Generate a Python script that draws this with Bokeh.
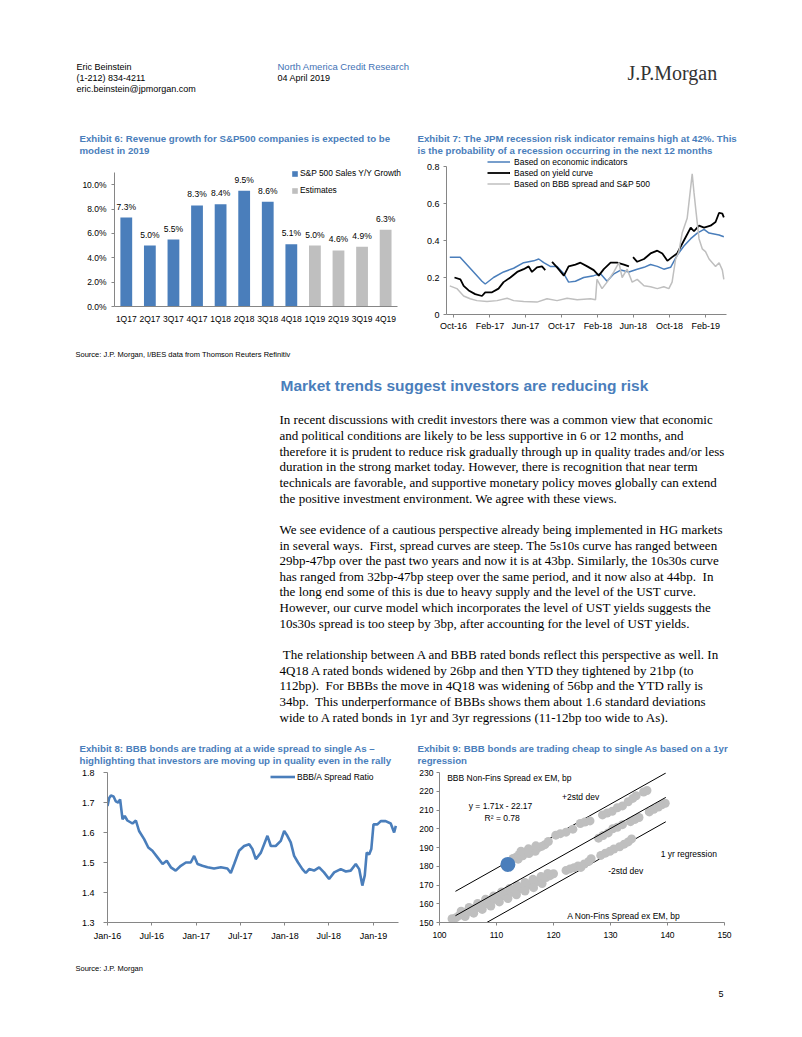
import numpy as np
import pandas as pd
from bokeh.plotting import figure
from bokeh.models import (Range1d, Legend, LegendItem, FixedTicker, Spacer,
                          DatetimeTickFormatter, NumeralTickFormatter, PrintfTickFormatter)
from bokeh.layouts import column, row
from bokeh.core.properties import value
from bokeh.embed import file_html
from bokeh.resources import INLINE

SANS = "Liberation Sans"
SERIF = "Liberation Serif"
BLUE = "#4A7EBB"
TBLUE = "#4A7EBB"
GREY = "#BFBFBF"
AXIS = "#868686"

# ---------------- Exhibit 6 data ----------------
quarters = ["1Q17", "2Q17", "3Q17", "4Q17", "1Q18", "2Q18", "3Q18", "4Q18",
            "1Q19", "2Q19", "3Q19", "4Q19"]
sales_growth = [7.3, 5.0, 5.5, 8.3, 8.4, 9.5, 8.6, 5.1, 5.0, 4.6, 4.9, 6.3]
is_estimate = [False] * 8 + [True] * 4

# ---------------- Exhibit 7 data ----------------
econ_dates = ["2016-09-18", "2016-10-23", "2016-11-26", "2017-01-05", "2017-01-16", "2017-02-13",
              "2017-03-19", "2017-04-22", "2017-05-26", "2017-06-29", "2017-07-16", "2017-08-02",
              "2017-08-24", "2017-09-16", "2017-10-09", "2017-10-25", "2017-11-17", "2017-12-15",
              "2018-01-18", "2018-02-10", "2018-03-04", "2018-03-27", "2018-04-19", "2018-05-17",
              "2018-06-14", "2018-07-07", "2018-07-29", "2018-08-21", "2018-09-12", "2018-10-05",
              "2018-10-27", "2018-11-19", "2018-12-12", "2019-01-03", "2019-01-26", "2019-02-12",
              "2019-03-01", "2019-03-18", "2019-04-03"]
econ_prob = [0.31, 0.31, 0.25, 0.18, 0.165, 0.20, 0.23, 0.25, 0.28, 0.29, 0.30, 0.28,
             0.26, 0.26, 0.22, 0.175, 0.18, 0.20, 0.21, 0.22, 0.18, 0.22, 0.24, 0.23,
             0.245, 0.255, 0.27, 0.26, 0.245, 0.255, 0.32, 0.37, 0.41, 0.44, 0.46, 0.44,
             0.435, 0.43, 0.42]

curve_dates = ["2016-10-04", "2016-10-24", "2016-11-04", "2016-11-21", "2016-12-13", "2017-01-05",
               "2017-01-16", "2017-02-08", "2017-03-02", "2017-03-19", "2017-04-11", "2017-05-04",
               "2017-05-26", "2017-06-12", "2017-06-23", "2017-07-10", "2017-07-27", "2017-08-07",
               "2017-08-18",
               "2017-08-30", "2017-09-16", "2017-10-09", "2017-10-25", "2017-11-17", "2017-12-04",
               "2017-12-27", "2018-01-18", "2018-02-04", "2018-02-21", "2018-03-16", "2018-04-07",
               "2018-04-30", "2018-05-17",
               "2018-05-24",
               "2018-05-31", "2018-06-14", "2018-07-07", "2018-07-29", "2018-08-21", "2018-09-07",
               "2018-09-24", "2018-10-10", "2018-10-27", "2018-11-19", "2018-12-12", "2018-12-23",
               "2019-01-09", "2019-01-26", "2019-02-17", "2019-03-06", "2019-03-18", "2019-03-29",
               "2019-04-03"]
curve_prob = [0.20, 0.19, 0.155, 0.13, 0.11, 0.10, 0.12, 0.12, 0.14, 0.175, 0.20, 0.23,
              0.245, 0.26, 0.23, 0.255, 0.26, 0.24,
              None,
              0.285, 0.255, 0.21, 0.26, 0.27, 0.28, 0.26, 0.24, 0.21, 0.245, 0.28, 0.28,
              0.27, 0.26,
              None,
              0.31, 0.285, 0.30, 0.33, 0.345, 0.33, 0.29, 0.31, 0.33, 0.40, 0.47, 0.45,
              0.48, 0.47, 0.48, 0.50, 0.55, 0.545, 0.525]

bbb_dates = ["2016-09-18", "2016-10-12", "2016-11-04", "2016-11-26", "2016-12-19", "2017-01-22",
             "2017-02-25", "2017-03-31", "2017-04-22", "2017-05-26", "2017-07-10", "2017-08-13",
             "2017-09-16", "2017-10-20", "2017-11-23", "2018-01-07", "2018-01-24", "2018-01-29",
             "2018-02-15", "2018-03-04", "2018-03-27", "2018-04-13", "2018-04-24", "2018-05-11",
             "2018-05-28", "2018-06-14", "2018-07-07", "2018-07-29", "2018-08-21", "2018-09-12",
             "2018-09-29", "2018-10-10", "2018-10-22", "2018-11-02", "2018-11-13", "2018-11-30",
             "2018-12-17", "2018-12-23", "2018-12-29", "2019-01-09", "2019-01-20", "2019-01-31",
             "2019-02-12", "2019-02-23", "2019-03-06", "2019-03-18", "2019-03-29", "2019-04-03"]
bbb_prob = [0.155, 0.14, 0.10, 0.085, 0.075, 0.07, 0.075, 0.088, 0.075, 0.07, 0.067, 0.085,
            0.075, 0.088, 0.08, 0.085, 0.08, 0.19, 0.14, 0.175, 0.23, 0.28, 0.20, 0.245,
            0.175, 0.19, 0.155, 0.15, 0.14, 0.15, 0.14, 0.175, 0.30, 0.34, 0.44, 0.52,
            0.76, 0.66, 0.57, 0.41, 0.355, 0.34, 0.30, 0.28, 0.26, 0.28, 0.24, 0.19]

rec_ticks = ["2016-10-01", "2017-02-01", "2017-06-01", "2017-10-01", "2018-02-01",
             "2018-06-01", "2018-10-01", "2019-02-01"]

# ---------------- Exhibit 8 data ----------------
ratio_dates = ["2016-01-01", "2016-01-08", "2016-01-15", "2016-01-26", "2016-02-04", "2016-02-14",
               "2016-02-22", "2016-03-03", "2016-03-12", "2016-03-23", "2016-04-13", "2016-04-27",
               "2016-05-10", "2016-05-31", "2016-06-17", "2016-07-04", "2016-07-25", "2016-08-15",
               "2016-09-01", "2016-09-18", "2016-10-08", "2016-10-29", "2016-11-19", "2016-12-09",
               "2016-12-23", "2017-01-06", "2017-01-26", "2017-02-16", "2017-03-15", "2017-04-12",
               "2017-05-09", "2017-05-23", "2017-06-06", "2017-06-26", "2017-07-17", "2017-08-07",
               "2017-08-20", "2017-09-03", "2017-09-24", "2017-10-21", "2017-11-04", "2017-11-24",
               "2017-12-15", "2017-12-29", "2018-01-11", "2018-01-25", "2018-02-08", "2018-02-24",
               "2018-03-14", "2018-03-28", "2018-04-11", "2018-05-01", "2018-05-22", "2018-06-11",
               "2018-07-02", "2018-07-23", "2018-08-19", "2018-09-09", "2018-09-29", "2018-10-20",
               "2018-11-03", "2018-11-16", "2018-11-26", "2018-12-04", "2018-12-14", "2018-12-23",
               "2019-01-01", "2019-01-17", "2019-01-31", "2019-02-20", "2019-03-13", "2019-03-27",
               "2019-04-03"]
bbb_a_ratio = [1.688, 1.715, 1.723, 1.72, 1.704, 1.70, 1.71, 1.644, 1.655, 1.64, 1.63, 1.64,
               1.605, 1.578, 1.55, 1.539, 1.517, 1.495, 1.506, 1.484, 1.473, 1.489, 1.50, 1.50,
               1.522, 1.495, 1.489, 1.484, 1.48, 1.484, 1.48, 1.465, 1.495, 1.539, 1.555, 1.561,
               1.545, 1.511, 1.533, 1.589, 1.555, 1.555, 1.572, 1.605, 1.589, 1.567, 1.522, 1.50,
               1.478, 1.465, 1.478, 1.473, 1.484, 1.467, 1.445, 1.467, 1.478, 1.47, 1.473, 1.495,
               1.478, 1.423, 1.457, 1.533, 1.527, 1.545, 1.627, 1.627, 1.638, 1.638, 1.63, 1.60,
               1.622]
ratio_ticks = ["2016-01-01", "2016-07-01", "2017-01-01", "2017-07-01", "2018-01-01",
               "2018-07-01", "2019-01-01"]

# ---------------- Exhibit 9 data ----------------
a_spread = [102.2, 102.9, 103.5, 104.1, 104.8, 105.4, 106.0, 106.6, 107.2, 107.8, 108.4, 109.0,
            109.6, 110.2, 110.8, 111.4, 112.0, 112.6, 113.2, 113.8, 114.4, 115.0, 115.6, 116.2,
            116.8, 117.4, 118.0, 118.7, 119.4, 120.0,
            103.8, 105.2, 106.7, 108.1, 109.5, 110.9, 112.3, 113.6, 115.0, 116.4, 117.8, 119.0,
            104.5, 106.0, 107.5, 109.0, 110.5, 112.0, 113.5, 115.0, 116.5, 118.0,
            112.9, 113.5, 114.0, 114.6, 115.1, 115.7, 116.2, 116.8, 117.3, 117.9, 118.5, 119.1,
            114.3, 115.6, 116.9, 113.8,
            120.4, 121.2, 122.2, 123.4, 124.7, 125.5, 126.4, 128.6, 129.4, 130.3, 131.2, 132.1,
            133.1, 133.9, 134.5, 135.8, 136.4,
            127.9, 128.7, 129.6, 130.4, 131.2, 132.1, 133.5, 134.3, 135.0, 136.8, 137.6, 138.4,
            139.0, 139.6,
            122.2, 122.9, 123.6, 124.3, 124.8, 125.4, 126.2, 126.6, 128.3, 129.1, 129.9, 130.6,
            131.6, 132.4, 133.1, 133.7]
bbb_spread = [152.0, 152.6, 153.8, 154.3, 155.6, 156.2, 157.4, 158.0, 159.1, 159.6, 160.8, 161.3,
              162.4, 163.1, 164.0, 164.6, 165.6, 166.1, 167.0, 167.6, 168.5, 169.1, 170.0, 170.6,
              171.5, 172.2, 173.0, 174.0, 175.0, 176.0,
              156.0, 158.0, 160.2, 162.4, 164.2, 166.3, 168.2, 169.8, 171.4, 173.0, 174.5, 176.2,
              153.2, 155.0, 157.0, 158.8, 161.0, 162.8, 164.8, 166.8, 168.6, 170.8,
              184.2, 185.0, 186.3, 185.6, 187.4, 186.8, 188.6, 188.0, 189.8, 190.6, 191.5, 193.2,
              188.0, 189.3, 190.9, 183.8,
              196.6, 197.4, 198.2, 199.8, 202.8, 203.6, 204.2, 207.4, 208.4, 209.3, 211.2, 212.2,
              214.4, 216.2, 217.6, 219.6, 220.4,
              195.0, 196.4, 197.8, 200.0, 200.8, 202.2, 203.8, 205.0, 206.0, 209.0, 210.4, 211.6,
              212.8, 213.6,
              177.8, 178.6, 179.2, 180.2, 179.4, 181.2, 182.6, 184.0, 185.8, 187.0, 188.0, 189.2,
              190.4, 191.8, 193.0, 194.6]
current_a = [112.0]
current_bbb = [181.0]
reg_slope = 1.71
reg_intercept = -22.17
reg_r2 = 0.78
two_std = 13.0
reg_x = [102.8, 139.7]


# ---------------- helpers ----------------
def ms(d):
    return pd.Timestamp(d).value / 1e6


def text_fig(w, h):
    p = figure(width=w, height=h, x_range=Range1d(0, w), y_range=Range1d(h, 0),
               x_axis_type=None, y_axis_type=None, toolbar_location=None,
               output_backend="svg", min_border=0)
    p.min_border_left = p.min_border_right = p.min_border_top = p.min_border_bottom = 0
    p.outline_line_color = None
    p.grid.visible = False
    return p


def add_text(p, x, y, txt, size="9px", font=SANS, color="#000000", bold=False, align="left"):
    p.text(x=[x], y=[y], text=[txt], text_font=value(font), text_font_size=size,
           text_color=color, text_font_style="bold" if bold else "normal",
           text_align=align, text_baseline="middle")


def chart_fig(w, h, l, r, t, b, **kw):
    p = figure(width=w, height=h, toolbar_location=None, output_backend="svg",
               min_border_left=l, min_border_right=r, min_border_top=t, min_border_bottom=b, **kw)
    p.outline_line_color = None
    p.grid.visible = False
    for ax in p.axis:
        ax.axis_line_color = AXIS
        ax.major_tick_line_color = AXIS
        ax.minor_tick_line_color = None
        ax.major_tick_in = 0
        ax.major_tick_out = 3
        ax.major_label_text_font = SANS
        ax.major_label_text_font_size = "8.5px"
        ax.major_label_text_color = "#000000"
    return p


def style_legend(leg, gw, gh, lh, spacing, standoff, size="8.5px"):
    leg.background_fill_alpha = 0
    leg.border_line_color = None
    leg.padding = 0
    leg.margin = 0
    leg.spacing = spacing
    leg.glyph_width = gw
    leg.glyph_height = gh
    leg.label_height = lh
    leg.label_standoff = standoff
    leg.label_text_font = SANS
    leg.label_text_font_size = size
    leg.label_text_color = "#000000"
    leg.label_text_baseline = "middle"


TSIZE = "9.7px"

# ---------------- Row 1: header + exhibit 6/7 titles (page y 8..156) ----------------
r1 = text_fig(786, 148)
add_text(r1, 68, 58, "Eric Beinstein")
add_text(r1, 68, 69, "(1-212) 834-4211")
add_text(r1, 68, 80, "eric.beinstein@jpmorgan.com")
add_text(r1, 269, 58, "North America Credit Research", size="9.5px", color="#3F72B5")
add_text(r1, 269, 69, "04 April 2019")
add_text(r1, 619, 64, "J.P.Morgan", size="20px", font=SERIF, color="#333333")
add_text(r1, 71, 130, "Exhibit 6: Revenue growth for S&P500 companies is expected to be",
         size=TSIZE, color=TBLUE, bold=True)
add_text(r1, 71, 142, "modest in 2019", size=TSIZE, color=TBLUE, bold=True)
add_text(r1, 409, 130, "Exhibit 7: The JPM recession risk indicator remains high at 42%.  This",
         size=TSIZE, color=TBLUE, bold=True)
add_text(r1, 409, 142, "is the probability of a recession occurring in the next 12 months",
         size=TSIZE, color=TBLUE, bold=True)

# ---------------- Exhibit 6 chart (page y 166..332, frame 166..306, axis to 172) ----------------
y6_top = 11.0
n_q = len(quarters)
q_pos = list(range(1, n_q + 1))
p6 = chart_fig(397, 166, 106, 1, 0, 26, x_range=Range1d(0.5, n_q + 0.8),
               y_range=Range1d(0, y6_top * 140 / 134))
act_x = [x for x, e in zip(q_pos, is_estimate) if not e]
act_v = [v for v, e in zip(sales_growth, is_estimate) if not e]
est_x = [x for x, e in zip(q_pos, is_estimate) if e]
est_v = [v for v, e in zip(sales_growth, is_estimate) if e]
b1 = p6.vbar(x=act_x, top=act_v, width=0.5, color=BLUE, line_color=None)
b2 = p6.vbar(x=est_x, top=est_v, width=0.5, color=GREY, line_color=None)
p6.text(x=q_pos, y=sales_growth, text=[f"{v:.1f}%" for v in sales_growth],
        text_font=value(SANS), text_font_size="8.5px", text_color="#000000",
        text_align="center", text_baseline="middle", y_offset=-11)
p6.yaxis.ticker = FixedTicker(ticks=[0, 2, 4, 6, 8, 10])
p6.yaxis.bounds = (0, y6_top)
p6.yaxis.formatter = PrintfTickFormatter(format="%.1f%%")
p6.yaxis.major_label_standoff = 5
p6.xaxis.ticker = FixedTicker(ticks=q_pos)
p6.xaxis.major_label_overrides = {x: q for x, q in zip(q_pos, quarters)}
p6.xaxis.bounds = (0.5, n_q + 0.5)
p6.xaxis.major_tick_line_color = None
p6.xaxis.major_label_standoff = 4
leg6 = Legend(items=[LegendItem(label="S&P 500 Sales Y/Y Growth", renderers=[b1]),
                     LegendItem(label="Estimates", renderers=[b2])],
              location=(177, 110))
style_legend(leg6, 7, 7, 12, 5, 2, size="8.4px")
p6.add_layout(leg6)

# ---------------- Exhibit 7 chart (page y 156..340, frame 156..314, axis 166..314) ----------------
y7_top = 0.8
p7 = chart_fig(389, 184, 41, 68, 0, 26, x_axis_type="datetime",
               x_range=Range1d(ms("2016-09-07"), ms("2019-04-12")),
               y_range=Range1d(0, y7_top * 158 / 148))
l1 = p7.line(pd.to_datetime(econ_dates), econ_prob, line_color=BLUE, line_width=1.5)
l2 = p7.line(pd.to_datetime(curve_dates), np.array(curve_prob, dtype=float),
             line_color="#000000", line_width=1.8)
l3 = p7.line(pd.to_datetime(bbb_dates), bbb_prob, line_color=GREY, line_width=1.5)
p7.xaxis.ticker = FixedTicker(ticks=[ms(d) for d in rec_ticks])
p7.xaxis.formatter = DatetimeTickFormatter(days="%b-%y", months="%b-%y", years="%b-%y")
p7.xaxis.major_label_text_font_size = "9px"
p7.yaxis.major_label_text_font_size = "9px"
p7.xaxis.major_label_standoff = 3
p7.yaxis.ticker = FixedTicker(ticks=[0, 0.2, 0.4, 0.6, 0.8])
p7.yaxis.bounds = (0, y7_top)
p7.yaxis.formatter = NumeralTickFormatter(format="0.[0]")
p7.yaxis.major_label_standoff = 4
leg7 = Legend(items=[LegendItem(label="Based on economic indicators", renderers=[l1]),
                     LegendItem(label="Based on yield curve", renderers=[l2]),
                     LegendItem(label="Based on BBB spread and S&P 500", renderers=[l3])],
              location=(41, 125))
style_legend(leg7, 23, 11, 11, 0, 4)
p7.add_layout(leg7)

# ---------------- Row 3: text (page y 340..766) ----------------
r3 = text_fig(786, 426)
add_text(r3, 67, 14, "Source: J.P. Morgan, I/BES data from Thomson Reuters Refinitiv", size="7.5px")
add_text(r3, 272, 45, "Market trends suggest investors are reducing risk", size="15.5px",
         color=TBLUE, bold=True)
paragraphs = [
    ["In recent discussions with credit investors there was a common view that economic",
     "and political conditions are likely to be less supportive in 6 or 12 months, and",
     "therefore it is prudent to reduce risk gradually through up in quality trades and/or less",
     "duration in the strong market today. However, there is recognition that near term",
     "technicals are favorable, and supportive monetary policy moves globally can extend",
     "the positive investment environment. We agree with these views."],
    ["We see evidence of a cautious perspective already being implemented in HG markets",
     "in several ways.  First, spread curves are steep. The 5s10s curve has ranged between",
     "29bp-47bp over the past two years and now it is at 43bp. Similarly, the 10s30s curve",
     "has ranged from 32bp-47bp steep over the same period, and it now also at 44bp.  In",
     "the long end some of this is due to heavy supply and the level of the UST curve.",
     "However, our curve model which incorporates the level of UST yields suggests the",
     "10s30s spread is too steep by 3bp, after accounting for the level of UST yields."],
    ["\u00a0The relationship between A and BBB rated bonds reflect this perspective as well. In",
     "4Q18 A rated bonds widened by 26bp and then YTD they tightened by 21bp (to",
     "112bp).  For BBBs the move in 4Q18 was widening of 56bp and the YTD rally is",
     "34bp.  This underperformance of BBBs shows them about 1.6 standard deviations",
     "wide to A rated bonds in 1yr and 3yr regressions (11-12bp too wide to As)."],
]
line_no = 0
for para in paragraphs:
    for ln in para:
        add_text(r3, 271, 79.3 + 15.65 * line_no, ln.replace("  ", "\u00a0 "),
                 size="13px", font=SERIF)
        line_no += 1
    line_no += 1
add_text(r3, 71, 407.7, "Exhibit 8: BBB bonds are trading at a wide spread to single As \u2013",
         size=TSIZE, color=TBLUE, bold=True)
add_text(r3, 71, 419.7, "highlighting that investors are moving up in quality even in the rally",
         size=TSIZE, color=TBLUE, bold=True)
add_text(r3, 409, 407.7, "Exhibit 9: BBB bonds are trading cheap to single As based on a 1yr",
         size=TSIZE, color=TBLUE, bold=True)
add_text(r3, 409, 419.7, "regression", size=TSIZE, color=TBLUE, bold=True)

# ---------------- Exhibit 8 chart (page y 766..945, frame 772..922) ----------------
p8 = chart_fig(397, 179, 99, 7, 6, 23, x_axis_type="datetime",
               x_range=Range1d(ms("2016-01-01"), ms("2019-04-14")), y_range=Range1d(1.3, 1.8))
l8 = p8.line(pd.to_datetime(ratio_dates), bbb_a_ratio, line_color=BLUE, line_width=2.6)
p8.xaxis.ticker = FixedTicker(ticks=[ms(d) for d in ratio_ticks])
p8.xaxis.formatter = DatetimeTickFormatter(days="%b-%y", months="%b-%y", years="%b-%y")
p8.xaxis.major_label_standoff = 5
p8.yaxis.ticker = FixedTicker(ticks=[1.3, 1.4, 1.5, 1.6, 1.7, 1.8])
p8.yaxis.formatter = NumeralTickFormatter(format="0.0")
p8.yaxis.major_tick_out = 4
p8.yaxis.major_label_standoff = 9
p8.yaxis.major_label_text_font_size = "9px"
p8.xaxis.major_label_text_font_size = "9px"
leg8 = Legend(items=[LegendItem(label="BBB/A Spread Ratio", renderers=[l8])], location=(163, 140))
style_legend(leg8, 25, 11, 11, 0, 2)
p8.add_layout(leg8)

# ---------------- Exhibit 9 chart ----------------
p9 = chart_fig(389, 179, 34, 70, 6, 23, x_range=Range1d(100, 150), y_range=Range1d(150, 230))
rx = np.array(reg_x)
p9.line(rx, reg_slope * rx + reg_intercept + two_std, line_color="#000000", line_width=1)
p9.line(rx, reg_slope * rx + reg_intercept - two_std, line_color="#000000", line_width=1)
p9.scatter(a_spread, bbb_spread, size=9, color=GREY, line_color=None)
p9.line(rx, reg_slope * rx + reg_intercept, line_color="#000000", line_width=1)
p9.scatter(current_a, current_bbb, size=15, color=BLUE, line_color=None)
p9.xaxis.ticker = FixedTicker(ticks=[100, 110, 120, 130, 140, 150])
p9.yaxis.ticker = FixedTicker(ticks=list(range(150, 231, 10)))
p9.xaxis.major_label_standoff = 6
p9.yaxis.major_label_standoff = 3


def t9(x, y, txt, align="left"):
    p9.text(x=[x], y=[y], text=[txt], text_font=value(SANS), text_font_size="8.5px",
            text_color="#000000", text_align=align, text_baseline="middle")


t9(101.35, 227.0, "BBB Non-Fins Spread ex EM, bp")
t9(110.7, 212.0, f"y = {reg_slope}x - {abs(reg_intercept)}", align="center")
t9(111.0, 205.6, f"R\u00b2 = {reg_r2}", align="center")
t9(121.5, 216.8, "+2std dev")
t9(138.8, 186.8, "1 yr regression")
t9(129.6, 177.7, "-2std dev")
t9(122.4, 153.3, "A Non-Fins Spread ex EM, bp")

# ---------------- Row 5: footer (page y 945..1029) ----------------
r5 = text_fig(786, 84)
add_text(r5, 67, 23, "Source: J.P. Morgan", size="7.5px")
add_text(r5, 710, 48, "5", size="9px")

main = column(r1,
              row(column(Spacer(width=397, height=10), p6), p7),
              r3,
              row(p8, p9),
              r5)
page = column(Spacer(width=794, height=8), row(Spacer(width=8, height=1021), main))
open("out.html", "w").write(file_html(page, INLINE))
